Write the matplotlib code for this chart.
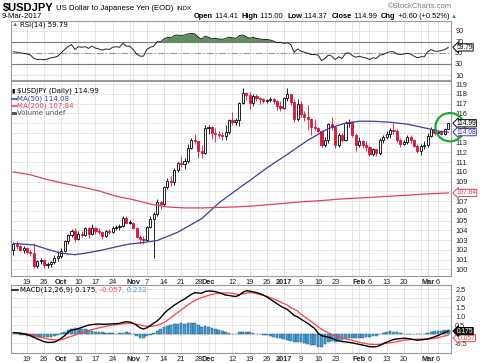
import numpy as np
import pandas as pd
import matplotlib
matplotlib.use("Agg")
import matplotlib.pyplot as plt
from matplotlib.patches import Ellipse
from matplotlib.lines import Line2D

plt.rcParams['font.family'] = ['Liberation Sans', 'DejaVu Sans']

# ---------------- data ----------------
dates = pd.bdate_range("2016-09-13", "2017-03-09")   # forex trades every weekday

opens = [102.0, 102.6, 102.4, 102.0, 102.2, 101.8, 101.7, 100.3, 100.8, 101.0,
         100.4, 100.5, 100.7, 101.2, 101.4, 101.9, 102.9, 103.5, 103.9, 103.1,
         103.6, 103.5, 104.2, 103.6, 104.2, 103.9, 103.8, 103.4, 103.9, 103.8,
         104.2, 104.3, 104.4, 105.3, 104.9, 104.8, 104.2, 103.3, 103.1, 103.0,
         104.3, 105.2, 105.7, 106.9, 106.7, 108.4, 109.1, 109.0, 110.2, 110.9,
         110.8, 111.1, 112.5, 113.3, 113.2, 112.1, 111.9, 114.5, 114.6, 114.0,
         113.9, 113.8, 113.7, 114.1, 115.3, 115.1, 115.3, 117.1, 118.1, 117.9,
         117.1, 117.8, 117.6, 117.5, 117.3, 117.4, 117.5, 117.3, 116.8, 116.6,
         117.6, 118.0, 117.2, 115.4, 117.0, 115.9, 115.6, 115.4, 114.6, 114.5,
         114.2, 112.8, 113.3, 114.9, 114.6, 112.8, 113.8, 113.3, 115.0, 115.1,
         113.8, 112.8, 113.2, 112.8, 112.6, 111.8, 112.3, 111.9, 113.3, 113.6,
         113.9, 114.3, 114.2, 113.3, 112.9, 113.1, 113.6, 113.3, 112.7, 112.1,
         112.7, 112.8, 113.7, 114.4, 114.0, 114.1, 113.9, 114.41]
highs = [102.8, 102.9, 102.5, 102.4, 102.3, 102.0, 102.7, 101.0, 101.2, 101.1,
         100.7, 100.9, 101.5, 101.9, 102.2, 103.0, 103.6, 104.1, 104.2, 103.9,
         103.9, 104.3, 104.3, 104.6, 104.3, 104.2, 103.9, 104.0, 104.1, 104.4,
         104.5, 104.6, 105.5, 105.5, 105.1, 104.9, 104.3, 103.5, 103.4, 104.4,
         105.5, 105.9, 107.2, 107.0, 108.6, 109.4, 109.6, 110.4, 111.0, 111.6,
         111.4, 112.9, 113.5, 113.9, 113.2, 112.8, 114.8, 114.8, 114.7, 114.5,
         114.2, 114.1, 114.8, 115.4, 116.1, 115.5, 117.2, 118.6, 118.2, 118.2,
         118.0, 118.0, 117.7, 117.6, 117.5, 117.7, 117.6, 117.4, 117.3, 117.7,
         118.6, 118.1, 117.5, 117.5, 117.3, 116.2, 116.9, 115.5, 115.4, 114.6,
         114.3, 113.6, 115.0, 115.6, 114.6, 114.0, 114.0, 115.2, 115.4, 115.2,
         114.0, 113.6, 113.3, 113.2, 112.7, 112.5, 112.4, 113.5, 113.8, 114.2,
         114.5, 115.0, 114.4, 113.5, 113.3, 113.8, 113.8, 113.4, 112.9, 112.9,
         113.2, 114.0, 114.6, 114.8, 114.2, 114.2, 114.5, 115.00]
lows = [101.5, 102.1, 101.9, 101.7, 101.6, 101.4, 100.1, 100.1, 100.5, 100.1,
        100.1, 100.2, 100.5, 100.9, 101.2, 101.8, 102.6, 103.3, 102.8, 103.0,
        103.3, 103.4, 103.2, 103.5, 103.6, 103.6, 103.1, 103.3, 103.6, 103.7,
        104.0, 104.0, 104.3, 104.6, 104.6, 104.1, 103.2, 102.6, 102.6, 102.9,
        104.2, 101.2, 105.5, 106.2, 106.5, 108.2, 108.6, 108.7, 110.0, 110.5,
        110.3, 110.9, 112.4, 112.9, 111.4, 111.4, 111.8, 113.9, 113.4, 113.1,
        113.5, 113.3, 113.3, 113.9, 114.8, 114.8, 114.7, 117.0, 117.4, 116.5,
        116.8, 117.3, 117.0, 117.1, 117.1, 117.2, 117.0, 116.4, 116.3, 116.5,
        117.3, 116.9, 115.1, 115.2, 115.6, 115.2, 114.3, 113.8, 114.3, 114.0,
        112.6, 112.6, 113.0, 114.3, 112.5, 112.6, 113.1, 113.2, 114.6, 113.6,
        112.1, 112.6, 112.5, 112.1, 111.6, 111.6, 111.6, 111.7, 113.0, 113.4,
        113.5, 113.9, 113.1, 112.6, 112.8, 112.9, 113.0, 112.6, 111.9, 111.7,
        112.3, 112.6, 113.6, 113.8, 113.7, 113.8, 113.8, 114.37]
closes = [102.6, 102.4, 102.0, 102.2, 101.8, 101.7, 100.3, 100.8, 101.0, 100.4,
          100.5, 100.7, 101.2, 101.4, 101.9, 102.9, 103.5, 103.9, 103.1, 103.6,
          103.5, 104.2, 103.6, 104.2, 103.9, 103.8, 103.4, 103.9, 103.8, 104.2,
          104.3, 104.4, 105.3, 104.8, 104.8, 104.2, 103.3, 103.1, 103.0, 104.3,
          105.2, 105.7, 106.9, 106.7, 108.4, 109.1, 109.0, 110.2, 110.9, 110.8,
          111.1, 112.5, 113.3, 113.2, 112.1, 111.9, 114.5, 114.6, 114.0, 113.9,
          113.8, 113.7, 114.1, 115.3, 115.1, 115.3, 117.1, 118.1, 117.9, 117.1,
          117.8, 117.6, 117.5, 117.3, 117.4, 117.5, 117.3, 116.8, 116.6, 117.6,
          118.0, 117.2, 115.4, 117.0, 115.9, 115.6, 115.4, 114.6, 114.5, 114.2,
          112.8, 113.3, 114.9, 114.6, 112.8, 113.8, 113.3, 115.0, 115.1, 113.8,
          112.8, 113.2, 112.8, 112.6, 111.8, 112.3, 111.9, 113.3, 113.6, 113.9,
          114.3, 114.2, 113.3, 112.9, 113.1, 113.6, 113.3, 112.7, 112.1, 112.7,
          112.8, 113.7, 114.4, 114.0, 114.1, 113.9, 114.4, 114.99]

ma50_dates = ["2016-09-13", "2016-09-21", "2016-09-27", "2016-10-03", "2016-10-07",
              "2016-10-12", "2016-10-18", "2016-10-25", "2016-10-31", "2016-11-03",
              "2016-11-10", "2016-11-18", "2016-11-29", "2016-12-06", "2016-12-13",
              "2016-12-19", "2016-12-26", "2017-01-03", "2017-01-11", "2017-01-19",
              "2017-01-26", "2017-02-01", "2017-02-07", "2017-02-14", "2017-02-21",
              "2017-03-01", "2017-03-06", "2017-03-09"]
ma50_vals = [102.65, 102.5, 102.05, 101.65, 101.5, 101.65, 101.9, 102.3, 102.6, 102.7,
             102.95, 103.8, 105.2, 106.8, 108.1, 109.1, 110.4, 111.8, 113.25, 114.45,
             115.0, 115.2, 115.2, 115.1, 114.9, 114.45, 114.2, 114.08]

ma200_dates = ["2016-09-13", "2016-09-20", "2016-09-27", "2016-10-04", "2016-10-11",
               "2016-10-18", "2016-10-25", "2016-11-01", "2016-11-08", "2016-11-15",
               "2016-11-22", "2016-11-29", "2016-12-06", "2016-12-13", "2016-12-20",
               "2016-12-27", "2017-01-03", "2017-01-10", "2017-01-17", "2017-01-24",
               "2017-01-31", "2017-02-07", "2017-02-14", "2017-02-21", "2017-02-28",
               "2017-03-09"]
ma200_vals = [110.0, 109.7, 109.2, 108.8, 108.45, 108.05, 107.5, 107.15, 106.7, 106.4,
              106.3, 106.3, 106.35, 106.4, 106.5, 106.65, 106.8, 106.95, 107.05, 107.2,
              107.3, 107.4, 107.5, 107.6, 107.72, 107.84]

rsi = [52, 51, 50, 49, 48, 46, 40, 38, 38.5, 37.5,
       39, 41, 42, 44, 50, 56, 61, 65, 56, 61,
       60, 61, 58, 62, 58.5, 57, 55, 57, 56, 60,
       61, 60, 67, 62, 62, 56, 48, 44, 44, 56,
       60, 62, 70, 70, 75, 78, 77, 81, 82, 81,
       82, 84, 85, 84, 78, 75, 80, 78, 75, 76,
       75, 74, 76, 78, 77, 76, 81, 82, 79, 76,
       78, 76, 75, 74, 74, 73, 71, 68, 69, 67,
       68, 65, 51, 57, 53, 51, 49, 47, 47, 46,
       36, 40, 46, 44, 38, 43, 40, 49, 50, 45,
       42, 44, 42, 41, 38, 41, 40, 46, 47, 50,
       52, 52, 48, 47, 48, 49, 48, 44, 41, 43,
       43, 52, 56, 53, 53, 54, 56, 59.79]

macd = [0.09, 0.08, 0.06, 0.03, -0.01, -0.08, -0.17, -0.25, -0.33, -0.41,
        -0.45, -0.45, -0.43, -0.35, -0.22, -0.08, 0.12, 0.24, 0.26, 0.32,
        0.38, 0.45, 0.51, 0.54, 0.56, 0.57, 0.56, 0.56, 0.57, 0.58,
        0.59, 0.61, 0.66, 0.70, 0.68, 0.62, 0.50, 0.36, 0.29, 0.36,
        0.48, 0.62, 0.74, 0.92, 1.15, 1.33, 1.47, 1.62, 1.74, 1.86,
        1.96, 2.09, 2.22, 2.31, 2.30, 2.28, 2.38, 2.41, 2.40, 2.37,
        2.32, 2.25, 2.18, 2.16, 2.12, 2.10, 2.18, 2.33, 2.42, 2.40,
        2.36, 2.32, 2.26, 2.18, 2.08, 1.95, 1.83, 1.70, 1.57, 1.47,
        1.38, 1.22, 1.05, 0.97, 0.84, 0.72, 0.60, 0.46, 0.32, 0.06,
        -0.07, -0.12, -0.16, -0.22, -0.30, -0.37, -0.40, -0.42, -0.45, -0.48,
        -0.52, -0.56, -0.60, -0.64, -0.69, -0.70, -0.69, -0.62, -0.52, -0.44,
        -0.36, -0.29, -0.26, -0.24, -0.22, -0.23, -0.26, -0.30, -0.33, -0.31,
        -0.29, -0.26, -0.20, -0.14, -0.07, 0.01, 0.10, 0.175]
signal = [0.09, 0.08, 0.06, 0.04, 0.01, -0.01, -0.05, -0.11, -0.17, -0.22,
          -0.26, -0.29, -0.31, -0.32, -0.30, -0.25, -0.17, -0.11, -0.05, 0.04,
          0.09, 0.14, 0.20, 0.26, 0.31, 0.36, 0.40, 0.44, 0.48, 0.51,
          0.54, 0.56, 0.58, 0.60, 0.61, 0.59, 0.56, 0.52, 0.48, 0.44,
          0.44, 0.46, 0.50, 0.56, 0.65, 0.78, 0.92, 1.07, 1.21, 1.35,
          1.49, 1.63, 1.76, 1.87, 1.97, 2.04, 2.10, 2.17, 2.21, 2.25,
          2.28, 2.29, 2.30, 2.30, 2.27, 2.23, 2.21, 2.24, 2.29, 2.32,
          2.30, 2.26, 2.21, 2.16, 2.11, 2.04, 1.97, 1.89, 1.80, 1.71,
          1.62, 1.49, 1.39, 1.29, 1.12, 0.98, 0.85, 0.71, 0.57, 0.42,
          0.28, 0.17, 0.08, -0.02, -0.08, -0.13, -0.19, -0.24, -0.29, -0.34,
          -0.39, -0.44, -0.48, -0.52, -0.55, -0.56, -0.57, -0.56, -0.53, -0.50,
          -0.47, -0.44, -0.41, -0.37, -0.33, -0.31, -0.29, -0.28, -0.27, -0.26,
          -0.26, -0.26, -0.25, -0.23, -0.19, -0.14, -0.09, -0.057]
hist = [0.02, 0.0, -0.02, -0.05, -0.08,
        -0.1, -0.13, -0.15, -0.17, -0.17, -0.15, -0.13, -0.1, -0.06,
        0.05, 0.15, 0.25, 0.32, 0.33, 0.3, 0.3, 0.28, 0.25, 0.2, 0.15,
        0.12, 0.1, 0.08, 0.05, 0.05, 0.04, 0.06, 0.08, 0.1, 0.05, 0.0,
        -0.12, -0.22, -0.2, -0.12, -0.05,
        0.08, 0.2, 0.3, 0.4, 0.48, 0.52, 0.55, 0.58, 0.6, 0.58, 0.6, 0.62, 0.6, 0.5, 0.42, 0.45,
        0.38, 0.35, 0.3, 0.25, 0.2, 0.12, 0.05, 0.0,
        0.02, 0.1, 0.15, 0.12, 0.1, 0.08, 0.02, 0.0,
        -0.03, -0.06, -0.1, -0.15, -0.18, -0.22, -0.25, -0.3,
        -0.35, -0.42, -0.42, -0.45, -0.48, -0.55, -0.6, -0.62, -0.68, -0.72,
        -0.55, -0.45, -0.4, -0.42, -0.38, -0.3, -0.25,
        -0.22, -0.2, -0.2, -0.18, -0.18, -0.15, -0.15, -0.12, -0.08,
        0.0, 0.08, 0.15, 0.18, 0.15, 0.1,
        0.05, 0.03, 0.02, 0.04, 0.02, 0.0, 0.0, 0.03,
        0.08, 0.15, 0.18, 0.2, 0.2, 0.22, 0.232]

label_dates = ["2016-09-19", "2016-09-26", "2016-10-03", "2016-10-10", "2016-10-17",
               "2016-10-24", "2016-11-01", "2016-11-07", "2016-11-14", "2016-11-21",
               "2016-11-28", "2016-12-01", "2016-12-12", "2016-12-19", "2016-12-26",
               "2017-01-02", "2017-01-09", "2017-01-16", "2017-01-23", "2017-02-01",
               "2017-02-06", "2017-02-13", "2017-02-20", "2017-03-01", "2017-03-06"]
label_text = ["19", "26", "Oct", "10", "17", "24", "Nov", "7", "14", "21", "28", "Dec",
              "12", "19", "26", "2017", "9", "16", "23", "Feb", "6", "13", "20", "Mar", "6"]

# ---------------- colours ----------------
RED = '#d8173c'
BLUE = '#3c3caa'
MA_RED = '#e2405a'
SIG_RED = '#ff4040'
GRID = '#e2e2e2'
FRAME = '#9a9a9a'

x = np.arange(len(dates))
def pos(d):
    return dates.get_loc(pd.Timestamp(d))

o, h, l, c = (np.array(a) for a in (opens, highs, lows, closes))

W, H = 480, 363
fig = plt.figure(figsize=(4.8, 3.63), dpi=100)

def box(left, top, right, bottom):
    return [left / W, 1 - bottom / H, (right - left) / W, (bottom - top) / H]

ax_rsi = fig.add_axes(box(11, 21, 451, 80))
ax = fig.add_axes(box(11, 81, 451, 276))
ax_macd = fig.add_axes(box(11, 285, 451, 353))

mondays = x[dates.weekday == 0]
month_start = x[np.r_[False, dates.month[1:] != dates.month[:-1]]]
grid_x = np.union1d(mondays, month_start)
lab_x = [pos(d) for d in label_dates]

for a in (ax_rsi, ax, ax_macd):
    a.set_xlim(-0.67, 127.8)
    for s in a.spines.values():
        s.set_color(FRAME)
        s.set_linewidth(0.8)
    for gx in grid_x:
        a.axvline(gx, color=GRID, lw=0.6, zorder=0)
    a.yaxis.tick_right()
    a.tick_params(length=0, labelsize=5.3, colors='#222222', pad=3)
    a.grid(axis='y', color=GRID, lw=0.6, zorder=0)
    a.set_axisbelow(True)

# ---------------- price panel ----------------
prev = np.r_[o[0], c[:-1]]
col = np.where(c >= prev, 'black', RED)
hollow = c >= o
ax.vlines(x, l, h, colors=col, lw=0.6, zorder=3)
ax.bar(x, np.maximum(np.abs(c - o), 0.06), bottom=np.minimum(o, c), width=0.62,
       color=np.where(hollow, 'white', col), edgecolor=col, linewidth=0.6, zorder=4)
ax.plot([pos(d) for d in ma50_dates], ma50_vals, color=BLUE, lw=0.9, zorder=5)
ax.plot([pos(d) for d in ma200_dates], ma200_vals, color=MA_RED, lw=0.9, zorder=5)
ax.set_ylim(99.31, 119.33)
yt = list(range(100, 120))
ax.set_yticks(yt, ['' if v in (108, 114, 115) else str(v) for v in yt])
ax.set_xticks(lab_x, label_text)

ax.add_patch(Ellipse((x[-1] + 0.5, c[-1] - 0.4), 8.5, 2.9, fill=False,
                     ec='#1fa83a', lw=1.6, clip_on=False, zorder=11))

# ---------------- RSI panel ----------------
r = np.array(rsi)
ax_rsi.fill_between(x, 70, r, where=r > 70, interpolate=True, color='#5f8f5f',
                    lw=0, zorder=2)
ax_rsi.plot(x, r, color='#222222', lw=0.7, zorder=3)
ax_rsi.axhline(70, color='#7a7a7a', lw=0.8, zorder=1)
ax_rsi.axhline(30, color='#7a7a7a', lw=0.8, zorder=1)
ax_rsi.axhline(50, color='#9a9a9a', lw=0.8, ls=(0, (6, 2, 1, 2)), zorder=1)
ax_rsi.set_ylim(1.2, 107.2)
ax_rsi.set_yticks([10, 30, 50, 70, 90])
ax_rsi.set_xticks(lab_x, [])

# ---------------- MACD panel ----------------
ax_macd.bar(x, hist, width=0.8, color='#4a9ccc', edgecolor='#1f5f8c', linewidth=0.35,
            zorder=2)
ax_macd.plot(x, signal, color=SIG_RED, lw=0.9, zorder=3)
ax_macd.plot(x, macd, color='black', lw=1.0, zorder=4)
ax_macd.set_ylim(-1.04, 2.74)
mt = [-0.5, 0.0, 0.5, 1.0, 1.5, 2.0, 2.5]
ax_macd.set_yticks(mt, ['-0.5', '', '0.5', '1.0', '1.5', '2.0', '2.5'])
ax_macd.set_xticks(lab_x, label_text)

for a in (ax, ax_macd):
    for t in a.get_xticklabels():
        if not t.get_text().isdigit() or t.get_text() == '2017':
            t.set_fontweight('bold')
    a.tick_params(axis='x', pad=2)

# ---------------- value tags at right edge ----------------
def tag(a, val, s, ec, fc='white', tc=None, dy=0):
    a.annotate(s, xy=(1.0, val), xycoords=a.get_yaxis_transform(),
               xytext=(4, dy), textcoords='offset points', ha='left', va='center',
               fontsize=4.8, color=tc or ec, annotation_clip=False, zorder=12,
               bbox=dict(boxstyle='larrow,pad=0.02', fc=fc, ec=ec, lw=0.7))

tag(ax, closes[-1], '114.99', 'black')
tag(ax, ma50_vals[-1], '114.08', BLUE)
tag(ax, ma200_vals[-1], '107.84', MA_RED)
tag(ax_rsi, rsi[-1], '59.79', 'black')
tag(ax_macd, signal[-1], '-0.057', SIG_RED, dy=-2)
tag(ax_macd, macd[-1], '0.175', 'black', fc='#1a1a1a', tc='white')

# ---------------- header and legends ----------------
renderer = fig.canvas.get_renderer()

def put(px, py, s, **kw):
    kw.setdefault('color', 'black')
    t = fig.text(px / W, 1 - py / H, s, va='center', ha='left', **kw)
    return px + t.get_window_extent(renderer).width

px = put(3, 8.5, '$USDJPY', fontsize=8, fontweight='bold')
px = put(px + 2, 8.5, 'US Dollar to Japanese Yen (EOD)', fontsize=5.6)
put(px + 3, 8.5, 'INDX', fontsize=4.6)
put(2, 17, '9-Mar-2017', fontsize=5.6)
fig.text(452 / W, 1 - 6 / H, '\u00a9StockCharts.com', ha='right', va='center',
         fontsize=5.5, color='#777777')

# quote line, right aligned so that the arrow ends near the panel edge
quote = [('Open', True), (' 114.41  ', False), ('High', True), (' 115.00  ', False),
         ('Low', True), (' 114.37  ', False), ('Close', True), (' 114.99  ', False),
         ('Chg', True), (' +0.60 (+0.52%) ', False)]
pieces = [fig.text(0, 1 - 17 / H, s, va='center', ha='left', fontsize=5.4,
                   fontweight='bold' if b else 'normal') for s, b in quote]
pieces.append(fig.text(0, 1 - 16.5 / H, '\u25b2', va='center', ha='left',
                       fontsize=4.2, color='#2a9d3a'))
widths = [p.get_window_extent(renderer).width for p in pieces]
px = 457 - sum(widths)
for p, w in zip(pieces, widths):
    p.set_x(px / W)
    px += w

leg = dict(fontsize=5.0, family=['DejaVu Sans'])
put(12, 24, '\u25b2', fontsize=4.5, color='#4f7f4f')
put(20, 24.5, 'RSI(14) 59.79', **leg)

put(11.5, 91, '\u25ae', fontsize=4.5, color='black', family=['DejaVu Sans'])
put(17, 91, '$USDJPY (Daily) 114.99', **leg)
fig.add_artist(Line2D([12 / W, 16.5 / W], [1 - 98.5 / H] * 2, color=BLUE, lw=1.1))
put(17, 98.5, 'MA(50) 114.08', color=BLUE, **leg)
fig.add_artist(Line2D([12 / W, 16.5 / W], [1 - 105.7 / H] * 2, color=MA_RED, lw=1.1))
put(17, 105.7, 'MA(200) 107.84', color=MA_RED, **leg)
put(11.5, 113, '\u2584', fontsize=4.5, color='#555555', family=['DejaVu Sans'])
put(17, 113, 'Volume undef', color='#555555', **leg)

fig.add_artist(Line2D([12 / W, 18 / W], [1 - 290 / H] * 2, color='black', lw=1.1))
px = put(20, 290, 'MACD(12,26,9) 0.175', **leg)
px = put(px, 290, ', -0.057', color=SIG_RED, **leg)
put(px, 290, ', 0.232', color='#3fa0e0', **leg)

fig.savefig('out.png', dpi=100, facecolor='white')
